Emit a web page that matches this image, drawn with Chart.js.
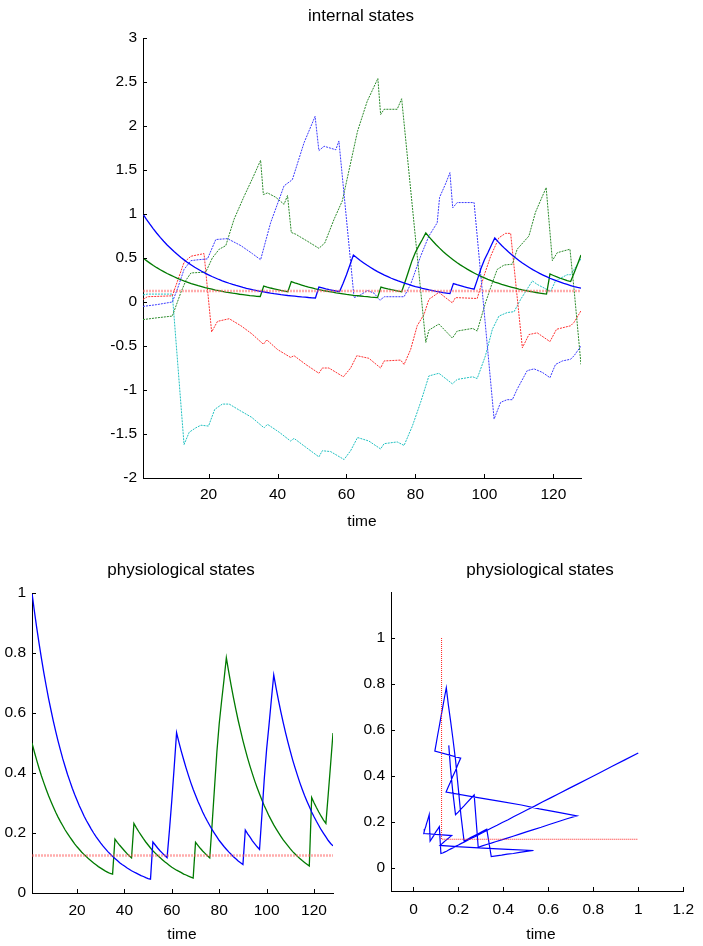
<!DOCTYPE html>
<html>
<head>
<meta charset="utf-8">
<script src="https://cdn.jsdelivr.net/npm/chart.js@4/dist/chart.umd.min.js"></script>
<style>
  html, body { margin: 0; padding: 0; background: #fff; }
  #wrap { position: relative; width: 703px; height: 946px; overflow: hidden; background: #fff; }
  canvas { position: absolute; }
  .lbl { position: absolute; text-align: center; width: 240px; line-height: 1; color: #000;
         font-family: "Liberation Sans", Arial, sans-serif; white-space: nowrap; }
  .ttl { font-size: 17px; }
  .ax { font-size: 15.5px; }
</style>
</head>
<body>
<div id="wrap">
  <canvas id="c1" width="703" height="540" style="left:0;top:0;width:703px;height:540px"></canvas>
  <canvas id="c2" width="352" height="401" style="left:0;top:545px;width:352px;height:401px"></canvas>
  <canvas id="c3" width="351" height="401" style="left:352px;top:545px;width:351px;height:401px"></canvas>
  <div class="lbl ttl" style="left:241px;top:7px">internal states</div>
  <div class="lbl ax" style="left:242px;top:513px">time</div>
  <div class="lbl ttl" style="left:61px;top:561px">physiological states</div>
  <div class="lbl ax" style="left:62px;top:926px">time</div>
  <div class="lbl ttl" style="left:420px;top:561px">physiological states</div>
  <div class="lbl ax" style="left:421px;top:926px">time</div>
</div>
<script>
// ---------- data ----------
const time = Array.from({length: 128}, (_, i) => i + 1);

const physBlue = [
  1.000,0.940,0.884,0.831,0.781,0.734,0.690,0.648,0.610,0.573,
  0.539,0.506,0.476,0.447,0.421,0.395,0.372,0.349,0.328,0.309,
  0.290,0.273,0.256,0.241,0.227,0.213,0.200,0.188,0.177,0.166,
  0.156,0.147,0.138,0.130,0.122,0.115,0.108,0.101,0.095,0.090,
  0.084,0.079,0.074,0.070,0.066,0.062,0.058,0.055,0.051,0.048,
  0.046,0.170,0.160,0.150,0.141,0.133,0.125,0.118,0.210,0.310,
  0.420,0.534,0.502,0.472,0.444,0.417,0.392,0.368,0.346,0.326,
  0.306,0.288,0.270,0.254,0.239,0.225,0.211,0.199,0.187,0.175,
  0.165,0.155,0.146,0.137,0.129,0.121,0.114,0.107,0.101,0.095,
  0.210,0.197,0.186,0.174,0.164,0.154,0.145,0.260,0.380,0.480,
  0.560,0.645,0.727,0.683,0.642,0.604,0.568,0.534,0.502,0.472,
  0.443,0.417,0.392,0.368,0.346,0.325,0.306,0.288,0.270,0.254,
  0.239,0.225,0.211,0.199,0.187,0.175,0.165,0.157
];
const physGreen = [
  0.500,0.470,0.442,0.415,0.390,0.367,0.345,0.324,0.305,0.287,
  0.269,0.253,0.238,0.224,0.210,0.198,0.186,0.175,0.164,0.154,
  0.145,0.136,0.128,0.121,0.113,0.107,0.100,0.094,0.088,0.083,
  0.078,0.073,0.069,0.065,0.063,0.180,0.169,0.159,0.150,0.141,
  0.132,0.124,0.117,0.232,0.218,0.205,0.193,0.181,0.170,0.160,
  0.150,0.141,0.133,0.125,0.118,0.111,0.104,0.098,0.092,0.086,
  0.081,0.076,0.072,0.068,0.063,0.060,0.056,0.053,0.050,0.169,
  0.159,0.149,0.140,0.132,0.124,0.117,0.230,0.350,0.470,0.565,
  0.640,0.710,0.784,0.737,0.693,0.651,0.612,0.575,0.541,0.508,
  0.478,0.449,0.422,0.397,0.373,0.351,0.330,0.310,0.291,0.274,
  0.257,0.242,0.227,0.214,0.201,0.189,0.177,0.167,0.157,0.147,
  0.138,0.130,0.122,0.115,0.108,0.102,0.096,0.090,0.318,0.301,
  0.285,0.270,0.256,0.243,0.232,0.330,0.430,0.533
];

// internal states (dotted), read at breakpoints
const int1T = [1,5,9.5,11,12.9,14.9,17,19.7,22.1,25.5,29.4,32.7,35.1,38,41.9,44.3,47.7,50.9,52,53.5,56.9,57.8,62.2,64,66.1,68,69.7,71,76.7,78.6,81.5,83.9,86.3,87,88.7,90,90.8,92.1,97,102.8,104.7,106.6,108.1,109.5,112.4,114.4,116.8,119,120.6,122.6,125,126,128];
const int1V = [-0.05,-0.03,0.0,0.15,0.37,0.47,0.48,0.49,0.71,0.72,0.64,0.55,0.48,0.90,1.32,1.39,1.81,2.11,1.72,1.77,1.73,1.83,0.05,0.08,0.13,0.10,0.02,0.06,0.06,0.20,0.52,0.75,0.90,1.19,1.34,1.47,1.07,1.13,1.13,-1.33,-1.14,-1.11,-1.11,-0.99,-0.78,-0.76,-0.80,-0.86,-0.71,-0.67,-0.65,-0.61,-0.50];

const int2T = [1,5,9.5,12,13.5,14.9,19.2,21.1,23.1,25,27.4,30.3,32.7,35.1,35.9,37.1,39.5,41.9,42.9,44,45.3,48.7,52,53.7,56.4,58.8,61.2,63.2,66,69.1,69.9,70.9,74.7,76,83,83.9,86.8,90.7,92.1,96.6,97.9,100.3,102.3,103.7,105.7,108.1,109.5,112.9,114.8,117.9,119.7,121.1,124.8,126,128];
const int2V = [-0.20,-0.18,-0.16,0.11,0.25,0.33,0.34,0.50,0.60,0.64,0.94,1.20,1.40,1.61,1.22,1.24,1.19,1.11,1.21,0.79,0.77,0.69,0.61,0.67,0.94,1.15,1.58,1.94,2.28,2.54,2.13,2.19,2.19,2.31,-0.46,-0.32,-0.25,-0.41,-0.33,-0.30,-0.33,-0.01,0.22,0.37,0.42,0.43,0.60,0.75,1.02,1.30,0.47,0.56,0.60,0.14,-0.71];

const int3T = [1,2.3,9.5,12.9,14.9,18.7,20.9,22.6,26,29.4,32.5,35.9,36.9,40,43.8,44.8,48.2,52,53,54.9,59.1,61.2,63,66.5,69.9,70.9,75.7,76.7,78.6,80.5,82.5,83.9,86.8,88.7,90.7,91.6,97.9,99.9,101.8,104.2,106.1,107.6,111,112.9,115.3,119,120.9,125,126,128];
const int3V = [0.03,0.06,0.07,0.45,0.52,0.55,-0.34,-0.22,-0.19,-0.27,-0.36,-0.48,-0.43,-0.54,-0.63,-0.61,-0.71,-0.81,-0.75,-0.75,-0.85,-0.75,-0.61,-0.64,-0.75,-0.67,-0.66,-0.71,-0.54,-0.27,-0.14,0.03,0.11,0.05,-0.01,0.05,0.04,0.30,0.52,0.73,0.78,0.78,-0.52,-0.37,-0.35,-0.45,-0.31,-0.27,-0.23,-0.10];

const int4T = [1,2.3,9.5,12.9,14.4,16.3,17.8,20,21.8,24,26,29.4,32.5,36.1,37.1,40.5,43.8,44.8,48.2,52,53,55.4,59.3,61.2,63.2,66.5,69.9,70.9,74.7,76.7,79.1,81.5,83.9,86.8,90.7,92.1,96.6,97.9,100.3,102.3,104.2,106.6,108.6,110.5,113.9,115.3,119.2,120.6,124,125,128];
const int4V = [0.08,0.09,0.09,-1.62,-1.48,-1.43,-1.40,-1.41,-1.22,-1.16,-1.16,-1.24,-1.31,-1.43,-1.39,-1.48,-1.58,-1.55,-1.65,-1.76,-1.69,-1.70,-1.79,-1.69,-1.54,-1.58,-1.67,-1.61,-1.59,-1.63,-1.41,-1.14,-0.84,-0.81,-0.93,-0.88,-0.85,-0.87,-0.61,-0.31,-0.16,-0.12,-0.11,0.03,0.24,0.20,0.12,0.24,0.31,0.31,0.49];

const threshold = 0.125;
const thrT = [1, 128];
const phaseThrX = [0.125, 0.125, 1];
const phaseThrY = [1, 0.125, 0.125];

const timeTicks = [20, 40, 60, 80, 100, 120];
const topYTicks = [-2, -1.5, -1, -0.5, 0, 0.5, 1, 1.5, 2, 2.5, 3];
const physYTicks = [0, 0.2, 0.4, 0.6, 0.8, 1];
const phaseXTicks = [0, 0.2, 0.4, 0.6, 0.8, 1, 1.2];
const phaseYTicks = [0, 0.2, 0.4, 0.6, 0.8, 1];

// ---------- helpers ----------
const zip = (xs, ys) => xs.map((x, i) => ({x: x, y: ys[i]}));
const fmt = v => String(Math.round(v * 10) / 10);

Chart.defaults.font.family = '"Liberation Sans", Arial, sans-serif';
Chart.defaults.font.size = 15.5;
Chart.defaults.color = '#000';

const innerTicks = {
  id: 'innerTicks',
  afterDraw(chart) {
    const ctx = chart.ctx, a = chart.chartArea;
    const xs = chart.scales.x, ys = chart.scales.y;
    ctx.save();
    ctx.strokeStyle = '#000';
    ctx.lineWidth = 1;
    ctx.beginPath();
    xs.ticks.forEach(t => {
      const p = Math.round(xs.getPixelForValue(t.value)) + 0.5;
      ctx.moveTo(p, a.bottom); ctx.lineTo(p, a.bottom - 4);
    });
    ys.ticks.forEach(t => {
      const p = Math.round(ys.getPixelForValue(t.value)) + 0.5;
      ctx.moveTo(a.left, p); ctx.lineTo(a.left + 4, p);
    });
    ctx.stroke();
    ctx.restore();
  }
};

function axis(min, max, tickVals, fitProp, fitVal, pad) {
  return {
    type: 'linear', min: min, max: max,
    afterBuildTicks: s => { s.ticks = tickVals.map(v => ({value: v})); },
    afterFit: s => { s[fitProp] = fitVal; },
    grid: { display: true, drawOnChartArea: false, drawTicks: false },
    border: { display: true, color: '#000', width: 1 },
    ticks: { padding: pad, callback: v => fmt(v), autoSkip: false, maxRotation: 0, color: '#000' }
  };
}

function ds(data, color, width, dash) {
  return {
    data: data, borderColor: color, backgroundColor: color, borderWidth: width,
    borderDash: dash || [], showLine: true, pointRadius: 0, pointHoverRadius: 0,
    tension: 0, fill: false
  };
}

const common = {
  responsive: false, animation: false, devicePixelRatio: 1,
  plugins: { legend: { display: false }, title: { display: false }, tooltip: { enabled: false } },
  events: []
};

const pink = 'rgba(255,90,90,0.5)';

// ---------- top: internal states ----------
new Chart(document.getElementById('c1'), {
  type: 'scatter',
  data: {
    datasets: [
      ds(zip(thrT, [threshold, threshold]), pink, 2.5, [2, 1]),
      ds(zip(time, physBlue), '#0000ff', 1.3),
      ds(zip(time, physGreen), '#007a00', 1.3),
      ds(zip(int1T, int1V), '#3a3aff', 1, [2, 1]),
      ds(zip(int2T, int2V), '#2a8a2a', 1, [2, 1]),
      ds(zip(int3T, int3V), '#ff3030', 1, [2, 1]),
      ds(zip(int4T, int4V), '#20c0c0', 1, [2, 1])
    ]
  },
  options: Object.assign({}, common, {
    layout: { padding: { top: 38, right: 122, left: 0, bottom: 0 } },
    scales: {
      x: axis(1, 128, timeTicks, 'height', 62, 7),
      y: axis(-2, 3, topYTicks, 'width', 143, 6)
    }
  }),
  plugins: [innerTicks]
});

// ---------- bottom left: physiological states vs time ----------
new Chart(document.getElementById('c2'), {
  type: 'scatter',
  data: {
    datasets: [
      ds(zip(thrT, [threshold, threshold]), pink, 2.5, [2, 1]),
      ds(zip(time, physBlue), '#0000ff', 1.3),
      ds(zip(time, physGreen), '#007a00', 1.3)
    ]
  },
  options: Object.assign({}, common, {
    layout: { padding: { top: 48, right: 19, left: 0, bottom: 0 } },
    scales: {
      x: axis(1, 128, timeTicks, 'height', 53, 8),
      y: axis(0, 1, physYTicks, 'width', 32, 6)
    }
  }),
  plugins: [innerTicks]
});

// ---------- bottom right: phase plot ----------
new Chart(document.getElementById('c3'), {
  type: 'scatter',
  data: {
    datasets: [
      ds(zip(phaseThrX, phaseThrY), '#ff2020', 1, [1, 1]),
      ds(zip(physBlue, physGreen), '#0000ff', 1.2)
    ]
  },
  options: Object.assign({}, common, {
    layout: { padding: { top: 47, right: 12, left: 0, bottom: 0 } },
    scales: {
      x: axis(-0.1, 1.2, phaseXTicks, 'height', 55, 9),
      y: axis(-0.1, 1.2, phaseYTicks, 'width', 39, 6)
    }
  }),
  plugins: [innerTicks]
});
</script>
</body>
</html>
